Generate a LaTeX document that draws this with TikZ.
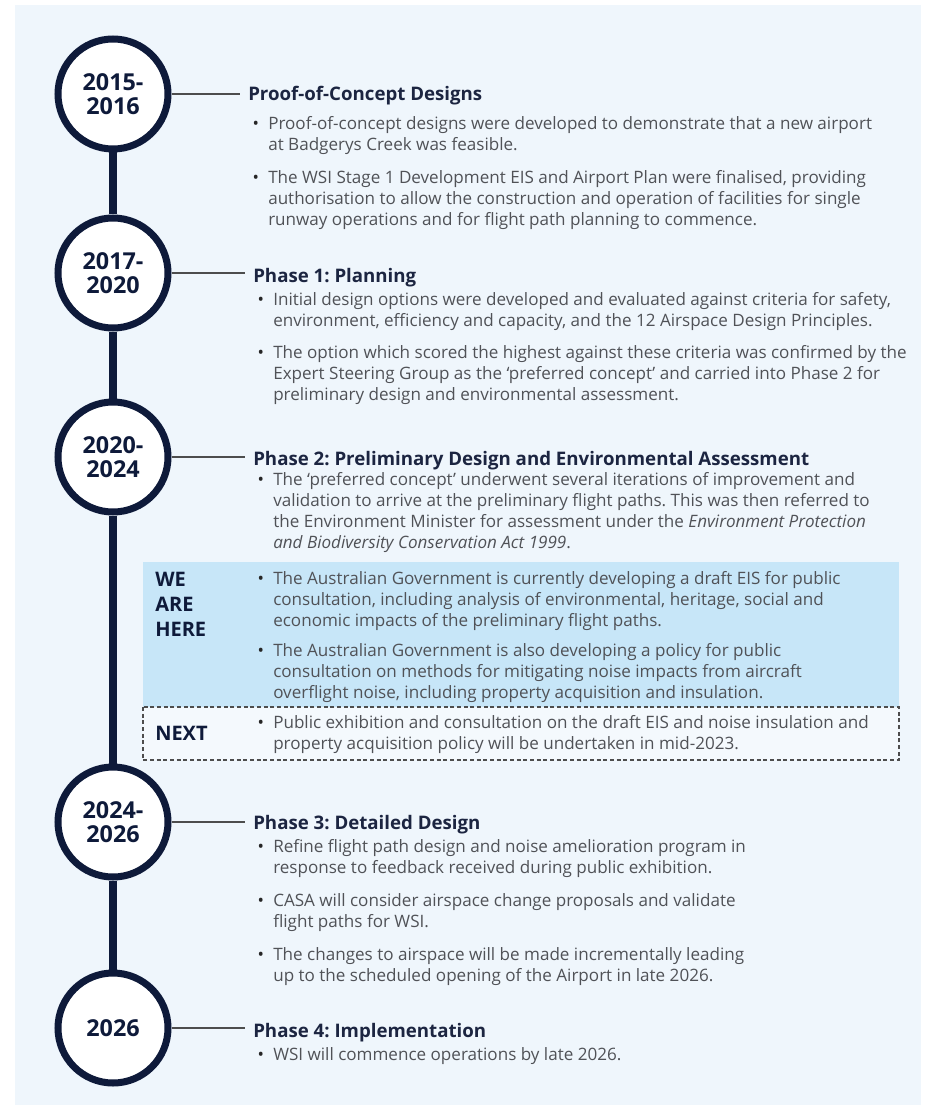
\documentclass[tikz,border=0pt]{standalone}
\usepackage{fontspec}
\setmainfont{Open Sans}
\frenchspacing
\definecolor{pagebg}{HTML}{EFF6FC}
\definecolor{navy}{HTML}{0E1A3A}
\definecolor{headblue}{HTML}{1C2541}
\definecolor{bodygray}{HTML}{505257}
\definecolor{linkgray}{HTML}{4D4D4D}
\definecolor{herebox}{HTML}{C7E6F8}
\definecolor{nextbox}{HTML}{F4F9FD}
\newcommand{\bul}{\llap{{\color{black!85}\textbullet}\hspace{7pt}}}
\tikzset{
  yearnode/.style={circle, draw=navy, line width=5.25pt, fill=white, minimum size=82.5pt,
    inner sep=0pt, align=center, text=navy, font=\bfseries\fontsize{17.5}{18}\selectfont},
  headnode/.style={anchor=west, inner sep=6pt, text=headblue, font=\bfseries\fontsize{14}{16}\selectfont},
  % base of a multi-line node = baseline of its last line
  itemnode/.style={anchor=base west, inner sep=0pt, align=left, text=bodygray,
    font=\fontsize{12.8}{15.75}\selectfont},
  tagnode/.style={anchor=base west, inner sep=0pt, align=left, text=navy,
    font=\bfseries\fontsize{15}{18.75}\selectfont},
  link/.style={draw=linkgray, line width=1.5pt},
  spine/.style={draw=navy, line width=6pt},
}
\begin{document}
\begin{tikzpicture}[x=0.75pt, y=-0.75pt]
    \useasboundingbox (0,0) rectangle (930,1105);
    \fill[pagebg] (15,5) rectangle (921,1105);

    % the WE ARE HERE and NEXT boxes
    \fill[herebox] (143,562) rectangle (899,707);
    \fill[nextbox] (143,707) rectangle (899,760);
    \draw[linkgray, line width=1.1pt, dash pattern=on 3pt off 2pt] (143,707) rectangle (899,760);

    % year circles
    \node[yearnode] (c1) at (113,94) {2015-\\2016};
    \node[yearnode] (c2) at (113,273) {2017-\\2020};
    \node[yearnode] (c3) at (113,457) {2020-\\2024};
    \node[yearnode] (c4) at (113,822) {2024-\\2026};
    \node[yearnode] (c5) at (113,1028) {2026};
    \draw[spine] (c1) -- (c2);
    \draw[spine] (c2) -- (c3);
    \draw[spine] (c3) -- (c4);
    \draw[spine] (c4) -- (c5);

    % headings
    \node[headnode] (h1) at (240,96) {Proof-of-Concept Designs};
    \node[headnode] (h2) at (245,278) {Phase 1: Planning};
    \node[headnode] (h3) at (245,461) {Phase 2: Preliminary Design and Environmental Assessment};
    \node[headnode] (h4) at (245,825) {Phase 3: Detailed Design};
    \node[headnode] (h5) at (245,1033) {Phase 4: Implementation};
    \draw[link] (c1.east) -- (c1.east -| h1.west);
    \draw[link] (c2.east) -- (c2.east -| h2.west);
    \draw[link] (c3.east) -- (c3.east -| h3.west);
    \draw[link] (c4.east) -- (c4.east -| h4.west);
    \draw[link] (c5.east) -- (c5.east -| h5.west);

    % bullet points
    \node[itemnode] (b1a) at (268,151) {\bul Proof-of-concept designs were developed to demonstrate that a new airport\\
      at Badgerys Creek was feasible.};
    \node[itemnode] (b1b) at (268,226) {\bul The WSI Stage 1 Development EIS and Airport Plan were finalised, providing\\
      authorisation to allow the construction and operation of facilities for single\\
      runway operations and for flight path planning to commence.};
    \node[itemnode] (b2a) at (273,326) {\bul Initial design options were developed and evaluated against criteria for safety,\\
      environment, efficiency and capacity, and the 12 Airspace Design Principles.};
    \node[itemnode] (b2b) at (273,400) {\bul The option which scored the highest against these criteria was confirmed by the\\
      Expert Steering Group as the ‘preferred concept’ and carried into Phase 2 for\\
      preliminary design and environmental assessment.};
    \node[itemnode] (b3a) at (273,548) {\bul The ‘preferred concept’ underwent several iterations of improvement and\\
      validation to arrive at the preliminary flight paths. This was then referred to\\
      the Environment Minister for assessment under the \textit{Environment Protection}\\
      \textit{and Biodiversity Conservation Act 1999}.};
    \node[itemnode] (b3b) at (273,626) {\bul The Australian Government is currently developing a draft EIS for public\\
      consultation, including analysis of environmental, heritage, social and\\
      economic impacts of the preliminary flight paths.};
    \node[itemnode] (b3c) at (273,698) {\bul The Australian Government is also developing a policy for public\\
      consultation on methods for mitigating noise impacts from aircraft\\
      overflight noise, including property acquisition and insulation.};
    \node[itemnode] (b3d) at (273,749) {\bul Public exhibition and consultation on the draft EIS and noise insulation and\\
      property acquisition policy will be undertaken in mid-2023.};
    \node[itemnode] (b4a) at (273,873) {\bul Refine flight path design and noise amelioration program in\\
      response to feedback received during public exhibition.};
    \node[itemnode] (b4b) at (273,927) {\bul CASA will consider airspace change proposals and validate\\
      flight paths for WSI.};
    \node[itemnode] (b4c) at (273,981) {\bul The changes to airspace will be made incrementally leading\\
      up to the scheduled opening of the Airport in late 2026.};
    \node[itemnode] (b5a) at (273,1060) {\bul WSI will commence operations by late 2026.};

    % status tags
    \node[tagnode] (here) at (155,636) {WE\\ARE\\HERE};
    \node[tagnode] (next) at (155,740) {NEXT};
\end{tikzpicture}
\end{document}
